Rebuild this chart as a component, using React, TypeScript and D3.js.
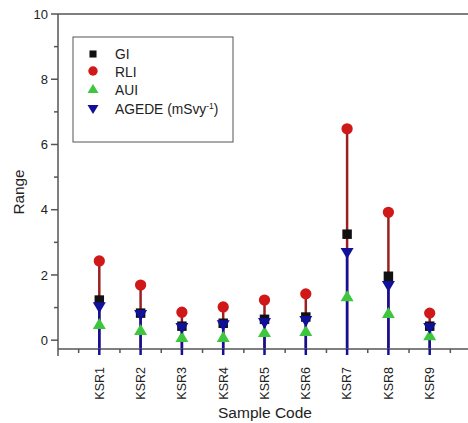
import React from "react";
import * as d3 from "d3";

const categories = ["KSR1", "KSR2", "KSR3", "KSR4", "KSR5", "KSR6", "KSR7", "KSR8", "KSR9"];
const GI = [1.23, 0.83, 0.43, 0.52, 0.64, 0.71, 3.25, 1.96, 0.43];
const RLI = [2.43, 1.69, 0.86, 1.02, 1.23, 1.42, 6.48, 3.92, 0.83];
const AUI = [0.5, 0.31, 0.1, 0.1, 0.25, 0.28, 1.35, 0.83, 0.15];
const AGEDE = [1.01, 0.77, 0.37, 0.46, 0.53, 0.59, 2.67, 1.66, 0.37];
const yTicks = [0, 2, 4, 6, 8, 10];
const yMinor = [1, 3, 5, 7, 9];

const W = 468, H = 423;
const L = 58, R = 471, T = 14, B = 349;

const x = d3.scaleLinear().domain([0, 10]).range([L, R]);
const y = d3.scaleLinear().domain([-0.27, 10]).range([B, T]);

const axisColor = "#555";
const font = "'Liberation Sans', Arial, sans-serif";
const red = "#d01818";
const stemRed = "#9a2020";
const blue = "#10109a";
const green = "#3ec63e";

const sq = d3.symbol().type(d3.symbolSquare).size(90)();
const circ = d3.symbol().type(d3.symbolCircle).size(100)();
const triUp = "M0,-6L6.5,5L-6.5,5Z";
const triDown = "M0,6L6.5,-5L-6.5,-5Z";

export default function App() {
  const majorX = d3.range(1, 10);
  const minorX = d3.range(0.5, 10, 1);
  return (
    <svg width={W} height={H} style={{ display: "block", position: "absolute", left: 0, top: 0 }}>
      <rect width={W} height={H} fill="#fff" />
      {/* stems */}
      {categories.map((c, i) => (
        <g key={c}>
          <line x1={x(i + 1)} x2={x(i + 1)} y1={y(RLI[i])} y2={B} stroke={stemRed} strokeWidth={2.5} />
          <line x1={x(i + 1)} x2={x(i + 1)} y1={y(AGEDE[i])} y2={B} stroke={blue} strokeWidth={2.5} />
        </g>
      ))}
      {/* axes */}
      <line x1={L} x2={W} y1={T} y2={T} stroke={axisColor} strokeWidth={1.5} />
      <line x1={L} x2={L} y1={T} y2={B} stroke={axisColor} strokeWidth={1.5} />
      <line x1={L} x2={W} y1={B} y2={B} stroke={axisColor} strokeWidth={1.5} />
      {yTicks.map((t) => (
        <g key={t}>
          <line x1={L - 7} x2={L} y1={y(t)} y2={y(t)} stroke={axisColor} strokeWidth={1.5} />
          <text x={L - 10} y={y(t)} dy="0.35em" textAnchor="end" fontFamily={font} fontSize={13} fill="#222">{t}</text>
        </g>
      ))}
      {yMinor.map((t) => (
        <line key={t} x1={L - 4} x2={L} y1={y(t)} y2={y(t)} stroke={axisColor} strokeWidth={1.5} />
      ))}
      <line x1={L} x2={L} y1={B} y2={B + 7} stroke={axisColor} strokeWidth={1.5} />
      {majorX.map((t) => (
        <line key={t} x1={x(t)} x2={x(t)} y1={B} y2={B + 6} stroke={blue} strokeWidth={2.5} />
      ))}
      {minorX.map((t) => (
        <line key={t} x1={x(t)} x2={x(t)} y1={B} y2={B + 4} stroke={axisColor} strokeWidth={1.5} />
      ))}
      {categories.map((c, i) => (
        <text key={c} transform={`translate(${x(i + 1)},${367}) rotate(-90)`} dy="0.35em" textAnchor="end" fontFamily={font} fontSize={12.5} fill="#222">{c}</text>
      ))}
      {/* markers */}
      {categories.map((c, i) => (
        <g key={c + "m"}>
          <path d={sq} transform={`translate(${x(i + 1)},${y(GI[i])})`} fill="#111" />
          <path d={circ} transform={`translate(${x(i + 1)},${y(RLI[i])})`} fill={red} />
          <path d={triUp} transform={`translate(${x(i + 1)},${y(AUI[i])})`} fill={green} />
          <path d={triDown} transform={`translate(${x(i + 1)},${y(AGEDE[i])})`} fill={blue} />
        </g>
      ))}
      {/* axis titles */}
      <text transform={`translate(24,192) rotate(-90)`} textAnchor="middle" fontFamily={font} fontSize={15.3} fill="#222">Range</text>
      <text x={265} y={418} textAnchor="middle" fontFamily={font} fontSize={15.5} fill="#222">Sample Code</text>
      {/* legend */}
      <rect x={73} y={37} width={160} height={105} fill="#fff" stroke={axisColor} strokeWidth={1} />
      <path d={d3.symbol().type(d3.symbolSquare).size(50)()} transform="translate(93,54)" fill="#111" />
      <text x={115} y={54} dy="0.35em" fontFamily={font} fontSize={13.8} fill="#222">GI</text>
      <path d={d3.symbol().type(d3.symbolCircle).size(70)()} transform="translate(93,71)" fill={red} />
      <text x={115} y={72} dy="0.35em" fontFamily={font} fontSize={13.8} fill="#222">RLI</text>
      <path d="M0,-5L5.5,4L-5.5,4Z" transform="translate(93,89)" fill={green} />
      <text x={115} y={90} dy="0.35em" fontFamily={font} fontSize={13.8} fill="#222">AUI</text>
      <path d="M0,5L5.5,-4L-5.5,-4Z" transform="translate(93,109)" fill={blue} />
      <text x={115} y={109} dy="0.35em" fontFamily={font} fontSize={13.8} fill="#222">
        AGEDE (mSvy<tspan fontSize={8.5} dy="-5">-1</tspan><tspan dy="5">)</tspan>
      </text>
    </svg>
  );
}
